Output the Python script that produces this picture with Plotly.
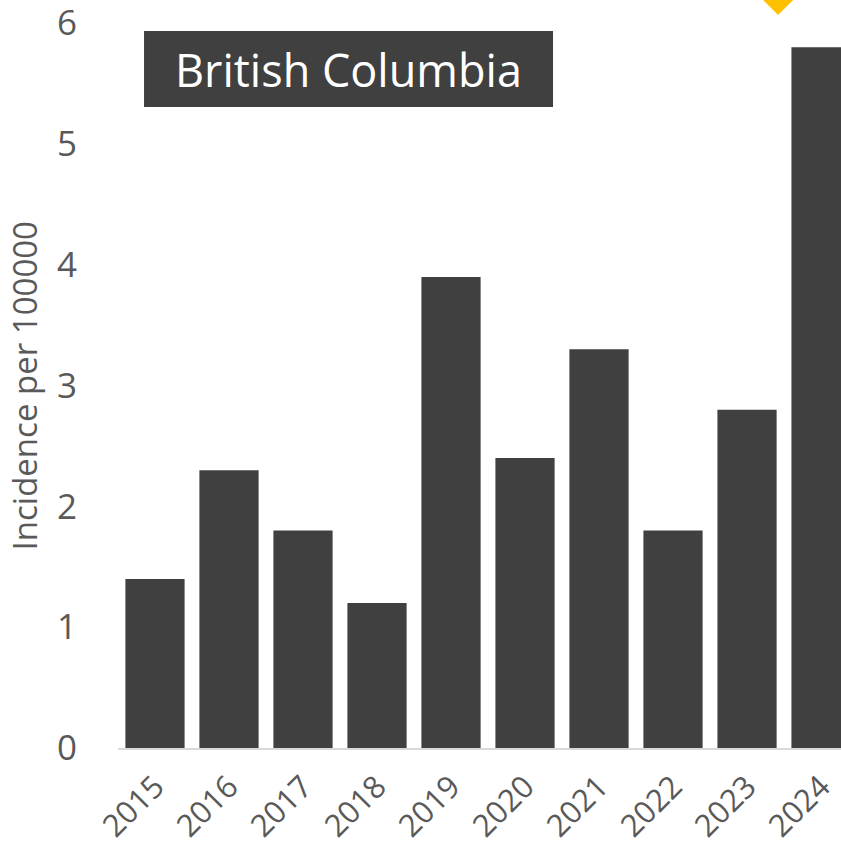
import plotly.graph_objects as go

years = [2015, 2016, 2017, 2018, 2019, 2020, 2021, 2022, 2023, 2024]
year_labels = [str(y) for y in years]
incidence = [1.4, 2.3, 1.8, 1.2, 3.9, 2.4, 3.3, 1.8, 2.8, 5.8]
y_ticks = [0, 1, 2, 3, 4, 5, 6]
title_text = "British Columbia"
y_title = "Incidence per 100000"

# decorative yellow diamond (partly above the chart), centre in x-data / paper units
dia_x, dia_y, dia_dx, dia_dy = 2023.42, 1.0303, 0.203, 0.0207
dia_path = (f"M {dia_x},{dia_y + dia_dy} L {dia_x + dia_dx},{dia_y} "
            f"L {dia_x},{dia_y - dia_dy} L {dia_x - dia_dx},{dia_y} Z")

fig = go.Figure()
fig.add_trace(go.Bar(x=years, y=incidence, marker=dict(color="#404040", line=dict(width=0)),
                     width=0.8, hoverinfo="skip"))

fig.update_layout(
    width=841, height=851,
    margin=dict(l=118, r=0, t=22, b=103, autoexpand=False),
    plot_bgcolor="white", paper_bgcolor="white",
    showlegend=False,
    font=dict(family="Open Sans", color="#595959"),
    xaxis=dict(range=[2014.5, 2024.27], tickvals=years, ticktext=year_labels,
               tickangle=-45, tickfont=dict(size=31, color="#595959"),
               ticklabelstandoff=6,
               showline=True, linecolor="#D9D9D9", linewidth=2,
               showgrid=False, zeroline=False, ticks="", automargin=False),
    yaxis=dict(range=[0, 6.01], tickvals=y_ticks, tickfont=dict(size=35, color="#595959"),
               showgrid=False, zeroline=False, showline=False, ticks="",
               ticklabelstandoff=40, ticklabeloverflow="allow", automargin=False),
    shapes=[
        dict(type="rect", xref="paper", yref="paper", x0=0.036, x1=0.6017,
             y0=0.883, y1=0.9876, fillcolor="#404040", line=dict(width=0), layer="above"),
        dict(type="path", xref="x", yref="paper", path=dia_path,
             fillcolor="#FFC000", line=dict(width=0), layer="above"),
    ],
    annotations=[
        dict(text=title_text, xref="paper", yref="paper", x=0.3188, y=0.935,
             showarrow=False, xanchor="center", yanchor="middle",
             font=dict(family="Open Sans", size=45, color="white")),
        dict(text=y_title, xref="paper", yref="paper", x=-0.130, y=0.498,
             showarrow=False, xanchor="center", yanchor="middle", textangle=-90,
             font=dict(family="Open Sans", size=33, color="#595959")),
    ],
)
fig.write_html("out.html", config={"displayModeBar": False},
               post_script="document.body.style.margin='0';")
